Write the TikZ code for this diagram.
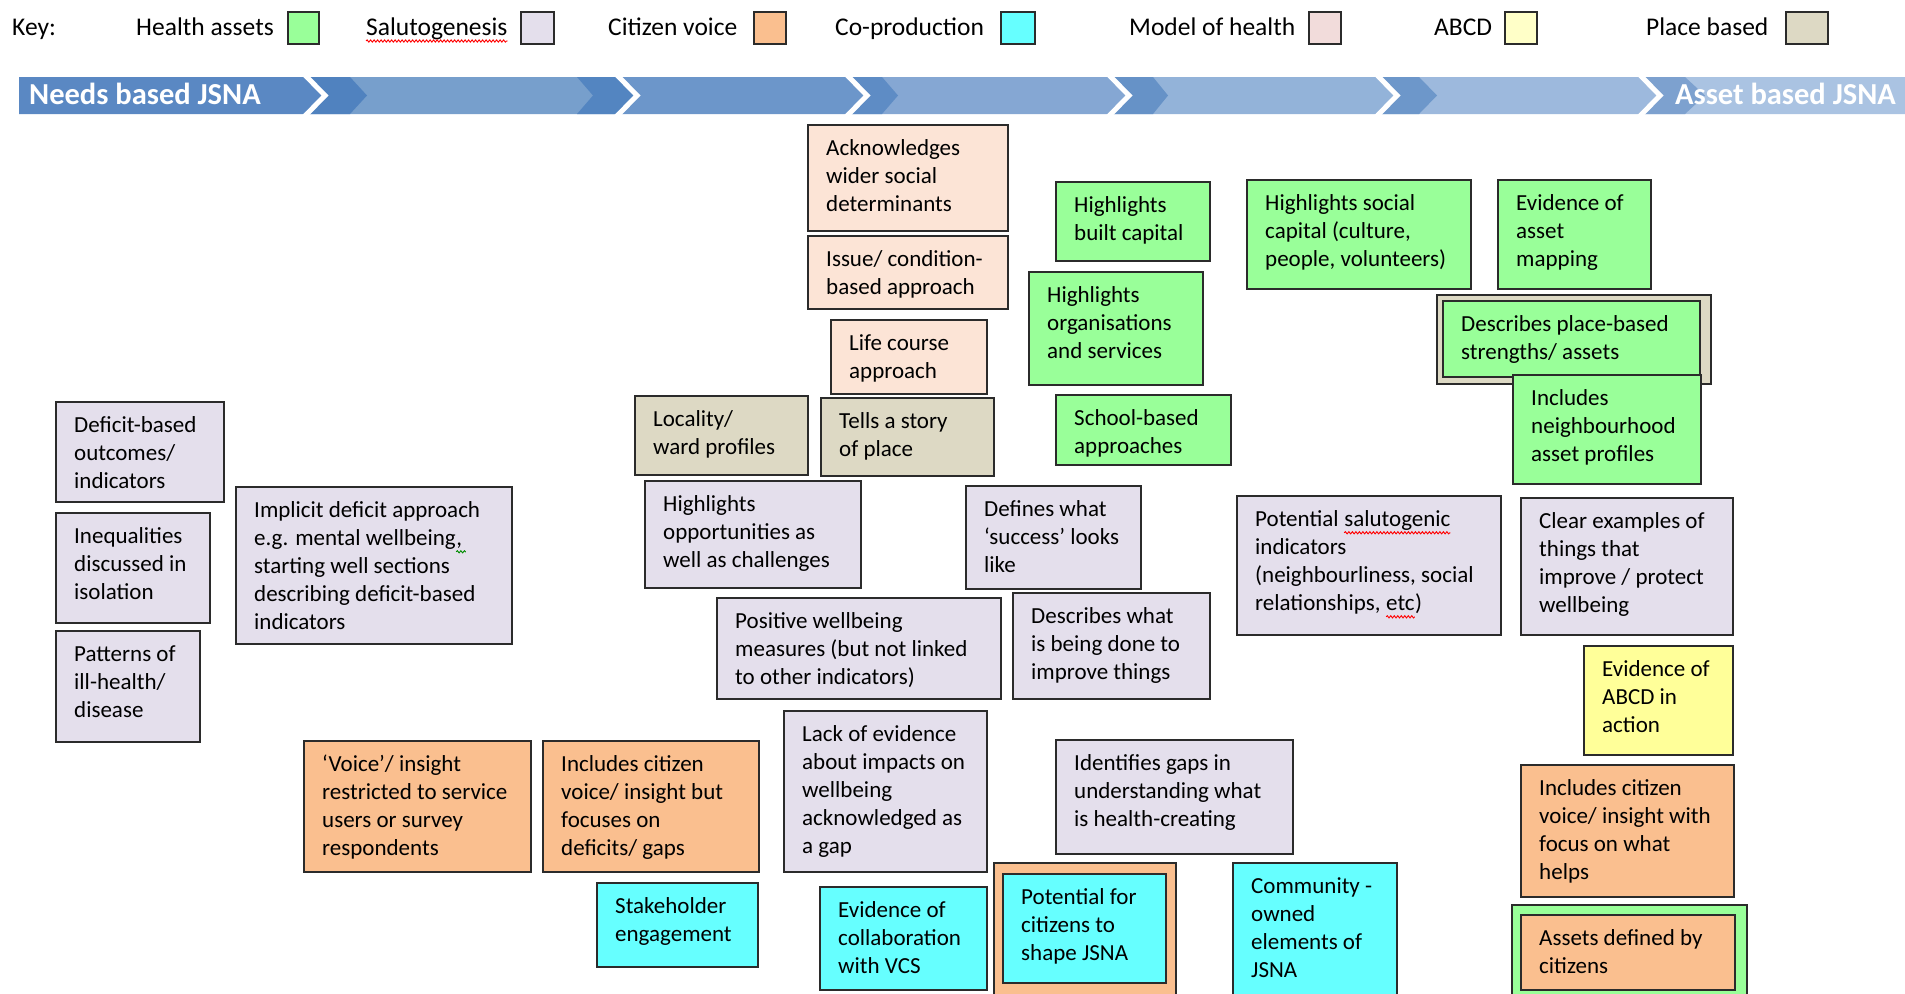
\documentclass[tikz,border=0pt]{standalone}
\usepackage{fontspec}
\setmainfont{Carlito}
\usetikzlibrary{calc,decorations.pathmorphing}

% category colours
\definecolor{hasset}{HTML}{99FF99}
\definecolor{saluto}{HTML}{E4DFEC}
\definecolor{voice}{HTML}{FABF8F}
\definecolor{coprod}{HTML}{66FFFF}
\definecolor{modelkey}{HTML}{F2DCDB}
\definecolor{model}{HTML}{FCE4D6}
\definecolor{abcdkey}{HTML}{FFFFC8}
\definecolor{abcd}{HTML}{FFFF99}
\definecolor{place}{HTML}{DDD9C4}
\definecolor{cardline}{HTML}{2B2B2B}

% band colours, darkest on the left
\definecolor{bandA}{HTML}{5A88C3}
\definecolor{bandB}{HTML}{779FCC}
\definecolor{bandC}{HTML}{6C96CA}
\definecolor{bandD}{HTML}{85A7D3}
\definecolor{bandE}{HTML}{93B3D9}
\definecolor{bandF}{HTML}{9DB9DD}
\definecolor{bandG}{HTML}{AAC3E2}
\definecolor{darkA}{HTML}{5082BF}
\definecolor{darkB}{HTML}{5385C1}
\definecolor{darkC}{HTML}{5E8CC5}
\definecolor{darkD}{HTML}{6692C7}
\definecolor{darkE}{HTML}{6D97CA}
\definecolor{darkF}{HTML}{7DA1CF}

\tikzset{
  card/.style={draw=cardline, line width=1.8pt, inner sep=0pt, outer sep=0pt, anchor=north west},
  cardtext/.style={anchor=north west, inner sep=0pt, align=left, font=\fontsize{23}{28}\selectfont},
  keytext/.style={anchor=base west, inner sep=0pt, font=\fontsize{25.5}{30}\selectfont},
  keybox/.style={draw=cardline, line width=1.8pt, inner sep=0pt, anchor=north west},
  bandtext/.style={inner sep=0pt, text=white, font=\bfseries\fontsize{30.5}{36}\selectfont},
  separator/.style={draw=white, line width=5pt},
  squiggle/.style={line width=0.9pt, decorate, decoration={snake, amplitude=1.1pt, segment length=3.5pt}},
}

% word with a spelling-check squiggle under it: colour, word
\newcommand\wavyword[2]{%
  \tikz[baseline=(w.base)]{\node[inner sep=0pt, outer sep=0pt] (w) {#2};
    \draw[squiggle, #1] ([yshift=-6pt]w.base west) -- ([yshift=-6pt]w.base east);}}

% card: name, fill, x1, y1, x2, y2, text
\newcommand\card[7]{%
  \node[card, fill=#2, minimum width={#5-#3}, minimum height={#6-#4}] (#1) at (#3,#4) {};
  \node[cardtext] (#1-t) at ($(#1.north west)+(18,11)$) {\strut #7};
}
% plain frame round a card: name, fill, x1, y1, x2, y2
\newcommand\cardframe[6]{%
  \node[card, fill=#2, minimum width={#5-#3}, minimum height={#6-#4}] (#1) at (#3,#4) {};
}
% band segment between two chevron lines
\newcommand\bandseg[3]{%
  \fill[#3] (#1,77) -- (#2,77) -- (#2+22,95.5) -- (#2,114) -- (#1,114) -- (#1+22,95.5) -- cycle;
}
% darker chevron after a separator: start, right top, right tip, colour
\newcommand\darkseg[4]{%
  \fill[#4] (#1,77) -- (#2,77) -- (#3,95.5) -- (#2,114) -- (#1,114) -- (#1+22,95.5) -- cycle;
}

\begin{document}
\begin{tikzpicture}[x=1pt, y=-1pt]
\clip (0,0) rectangle (1905,993);
\fill[white] (0,0) rectangle (1905,993);

% ---------- key ----------
\node[keytext] (key) at (12,35) {Key:};
\node[keytext] (k1t) at (136,35) {Health assets};
\node[keybox, fill=hasset, minimum width=31, minimum height=32] (k1) at (287,11) {};
\node[keytext] (k2t) at (366,35) {Salutogenesis};
\draw[squiggle, red] ([yshift=-6pt]k2t.base west) -- ([yshift=-6pt]k2t.base east);
\node[keybox, fill=saluto, minimum width=33, minimum height=32] (k2) at (520,11) {};
\node[keytext] (k3t) at (608,35) {Citizen voice};
\node[keybox, fill=voice, minimum width=32, minimum height=32] (k3) at (753,11) {};
\node[keytext] (k4t) at (835,35) {Co-production};
\node[keybox, fill=coprod, minimum width=34, minimum height=32] (k4) at (1000,11) {};
\node[keytext] (k5t) at (1129,35) {Model of health};
\node[keybox, fill=modelkey, minimum width=32, minimum height=32] (k5) at (1308,11) {};
\node[keytext] (k6t) at (1434,35) {ABCD};
\node[keybox, fill=abcdkey, minimum width=32, minimum height=32] (k6) at (1504,11) {};
\node[keytext] (k7t) at (1646,35) {Place based};
\node[keybox, fill=place, minimum width=42, minimum height=32] (k7) at (1785,11) {};

% ---------- needs-to-assets band ----------
\fill[bandA] (19,77) -- (303,77) -- (325,95.5) -- (303,114) -- (19,114) -- cycle;
\bandseg{303}{615}{bandB}
\bandseg{615}{845}{bandC}
\bandseg{845}{1107}{bandD}
\bandseg{1107}{1375}{bandE}
\bandseg{1375}{1638}{bandF}
\fill[bandG, rounded corners=3pt] (1638,77) -- (1910,77) -- (1910,114) -- (1638,114) -- (1660,95.5) -- cycle;
\darkseg{303}{350}{367}{darkA}
\fill[darkB] (577,77) -- (615,77) -- (637,95.5) -- (615,114) -- (577,114) -- (593,95.5) -- cycle;
\darkseg{845}{882}{898}{darkC}
\darkseg{1107}{1153}{1168}{darkD}
\darkseg{1375}{1419}{1437}{darkE}
\darkseg{1638}{1685}{1705}{darkF}
\foreach \s in {303,615,845,1107,1375,1638}
  \draw[separator] (\s,73) -- (\s+22,95.5) -- (\s,118);
\node[bandtext, anchor=base west] (needs) at (29,104) {Needs based JSNA};
\node[bandtext, anchor=base east] (assets) at (1896,104) {Asset based JSNA};

% ---------- model of health ----------
\card{ack}{model}{808}{125}{1008}{231}{Acknowledges\\wider social\\determinants}
\card{issue}{model}{808}{236}{1008}{309}{Issue/ condition-\\based approach}
\card{life}{model}{831}{320}{987}{394}{Life course\\approach}

% ---------- place based ----------
\card{locality}{place}{635}{396}{808}{475}{Locality/\\ward profiles}
\card{story}{place}{821}{398}{994}{476}{Tells a story\\of place}

% ---------- health assets ----------
\card{built}{hasset}{1056}{182}{1210}{261}{Highlights\\built capital}
\card{orgs}{hasset}{1029}{272}{1203}{385}{Highlights\\organisations\\and services}
\card{school}{hasset}{1056}{395}{1231}{465}{School-based\\approaches}
\card{social}{hasset}{1247}{180}{1471}{289}{Highlights social\\capital (culture,\\people, volunteers)}
\card{mapping}{hasset}{1498}{180}{1651}{289}{Evidence of\\asset\\mapping}
\cardframe{placeframe}{place}{1437}{295}{1711}{384}
\card{placeassets}{hasset}{1443}{301}{1700}{377}{Describes place-based\\strengths/ assets}
\card{neigh}{hasset}{1513}{375}{1701}{484}{Includes\\neighbourhood\\asset profiles}

% ---------- salutogenesis ----------
\card{deficit}{saluto}{56}{402}{224}{502}{Deficit-based\\outcomes/\\indicators}
\card{ineq}{saluto}{56}{513}{210}{623}{Inequalities\\discussed in\\isolation}
\card{patterns}{saluto}{56}{631}{200}{742}{Patterns of\\ill-health/\\disease}
\card{implicit}{saluto}{236}{487}{512}{644}{Implicit deficit approach\\e.g. mental wellbeing\wavyword{green!55!black}{,\,}\\starting well sections\\describing deficit-based\\indicators}
\card{opps}{saluto}{645}{481}{861}{588}{Highlights\\opportunities as\\well as challenges}
\card{success}{saluto}{966}{486}{1141}{589}{Defines what\\‘success’ looks\\like}
\card{saluind}{saluto}{1237}{496}{1501}{635}{Potential \wavyword{red}{salutogenic}\\indicators\\(neighbourliness, social\\relationships, \wavyword{red}{etc})}
\card{examples}{saluto}{1521}{498}{1733}{635}{Clear examples of\\things that\\improve / protect\\wellbeing}
\card{positive}{saluto}{717}{598}{1001}{699}{Positive wellbeing\\measures (but not linked\\to other indicators)}
\card{doing}{saluto}{1013}{593}{1210}{699}{Describes what\\is being done to\\improve things}
\card{lack}{saluto}{784}{711}{987}{872}{Lack of evidence\\about impacts on\\wellbeing\\acknowledged as\\a gap}
\card{gaps}{saluto}{1056}{740}{1293}{854}{Identifies gaps in\\understanding what\\is health-creating}

% ---------- ABCD ----------
\card{abcdact}{abcd}{1584}{646}{1733}{755}{Evidence of\\ABCD in\\action}

% ---------- citizen voice ----------
\card{voicesvc}{voice}{304}{741}{531}{872}{‘Voice’/ insight\\restricted to service\\users or survey\\respondents}
\card{voicedef}{voice}{543}{741}{759}{872}{Includes citizen\\voice/ insight but\\focuses on\\deficits/ gaps}
\card{voicehelp}{voice}{1521}{765}{1734}{897}{Includes citizen\\voice/ insight with\\focus on what\\helps}

% ---------- co-production ----------
\card{stake}{coprod}{597}{883}{758}{967}{Stakeholder\\engagement}
\card{vcs}{coprod}{820}{887}{987}{990}{Evidence of\\collaboration\\with VCS}
\cardframe{shapeframe}{voice}{994}{863}{1176}{1010}
\card{shape}{coprod}{1003}{874}{1166}{983}{Potential for\\citizens to\\shape JSNA}
\card{community}{coprod}{1233}{863}{1397}{1010}{Community -\\owned\\elements of\\JSNA}
\cardframe{citframe}{hasset}{1512}{905}{1747}{1010}
\card{citassets}{voice}{1521}{915}{1735}{990}{Assets defined by\\citizens}
\end{tikzpicture}
\end{document}
